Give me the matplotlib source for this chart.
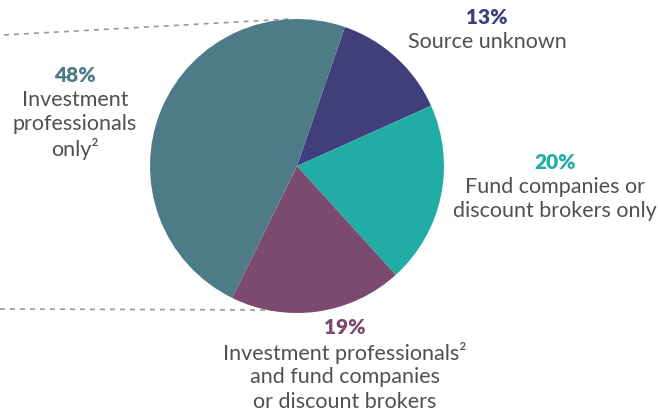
import matplotlib.pyplot as plt

# slice shares, clockwise from the top-right slice
labels = ["Source unknown",
          "Fund companies or\ndiscount brokers only",
          "Investment professionals²\nand fund companies\nor discount brokers",
          "Investment\nprofessionals\nonly²"]
shares = [13, 20, 19, 48]
colors = ["#413f7b", "#22aca6", "#7d4a6f", "#4d7b87"]

# label anchor (x, y of the percent line) in pixel space, y measured from top
label_pos = [(487, 17), (555, 162), (345, 328), (75, 75)]

W, H = 658, 411
fig = plt.figure(figsize=(W / 100, H / 100), dpi=100)
ax = fig.add_axes([0, 0, 1, 1])

cx, cy, r = 297, 166, 147
ax.pie(shares, colors=colors, startangle=71, counterclock=False,
       center=(cx, H - cy), radius=r, wedgeprops=dict(linewidth=0))

# dashed guide lines to the left of the pie
ax.plot([4, 290], [H - 35, H - 19], ls=(0, (3, 3)), color="#9a9a9a", lw=1.2, zorder=0)
ax.plot([0, 280], [H - 309, H - 310], ls=(0, (3, 3)), color="#9a9a9a", lw=1.2, zorder=0)

font = "Lato"
line_h = 24.5
for share, lab, col, (x, y) in zip(shares, labels, colors, label_pos):
    ax.text(x, H - y, f"{share}%", ha="center", va="center", fontsize=15,
            fontweight="heavy", color=col, family=font)
    for i, line in enumerate(lab.split("\n")):
        ax.text(x, H - (y + line_h * (i + 1)), line, ha="center", va="center",
                fontsize=15.5, color="#505050", family=font)

ax.set_xlim(0, W)
ax.set_ylim(0, H)
ax.set_aspect("equal")
ax.axis("off")

fig.savefig("out.png", dpi=100)
